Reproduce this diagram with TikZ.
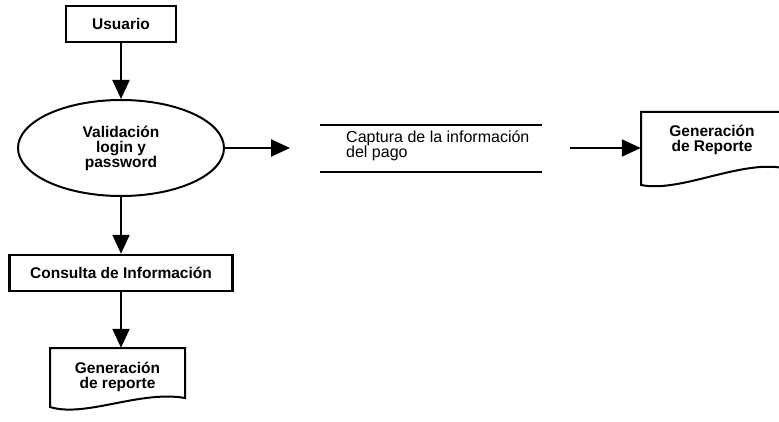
\documentclass[tikz,border=0pt]{standalone}
\usepackage{fontspec}
\setmainfont{Liberation Sans}
\usetikzlibrary{arrows.meta,shapes.geometric}
\begin{document}
\begin{tikzpicture}[x=1pt,y=-1pt,
  lbl/.style={font=\fontsize{15.5}{15}\selectfont\bfseries, align=center, inner sep=0pt},
  boxnode/.style={draw, line width=2.4pt, lbl},
  flow/.style={line width=2pt, -{Triangle[length=19pt,width=17pt]}},
  storeline/.style={line width=2pt},
  docline/.style={line width=2pt, line join=miter}
]
\useasboundingbox (0,0) rectangle (779,422);
\clip (0,0) rectangle (779,422);

% Usuario
\node[boxnode, minimum width=110pt, minimum height=36pt] (usr) at (121,24) {Usuario};

% Validacion ellipse
\node[draw, ellipse, line width=2pt, lbl, minimum width=206pt, minimum height=96pt] (val) at (121,148)
  {Validación\\login y\\password};

% Consulta
\node[boxnode, minimum width=223pt, minimum height=36pt] (cons) at (121,273) {Consulta de Información};

% Document 1
\node[lbl, minimum width=135pt, minimum height=58pt] (rep1) at (117.5,377) {Generación\\de reporte};
\draw[docline] (50,407) -- (50,348) -- (185,348) -- (185,398)
  .. controls (140,390) and (85,418) .. cycle;

% Data store
\coordinate (st1) at (320,125);
\coordinate (st2) at (542,125);
\coordinate (st3) at (320,172);
\coordinate (st4) at (542,172);
\draw[storeline] (st1) -- (st2);
\draw[storeline] (st3) -- (st4);
\node[font=\fontsize{16}{15}\selectfont, align=left, anchor=west, inner sep=0pt] (cap) at (346,146)
  {Captura de la información\\del pago};

% Document 2
\node[lbl, minimum width=142pt, minimum height=56pt] (rep2) at (712,140) {Generación\\de Reporte};
\draw[docline] (641,185) -- (641,112) -- (783,112) -- (783,168)
  .. controls (740,160) and (680,193) .. cycle;

% Connectors
\coordinate (a1) at (290,148);
\coordinate (a2) at (570,148);
\draw[flow] (usr.south) -- (val.north);
\draw[flow] (val.east) -- (val.east -| a1);
\draw[flow] (val.south) -- (cons.north);
\draw[flow] (cons.south) -- (cons.south |- rep1.north);
\draw[flow] (a2) -- (a2 -| rep2.west);
\end{tikzpicture}
\end{document}
